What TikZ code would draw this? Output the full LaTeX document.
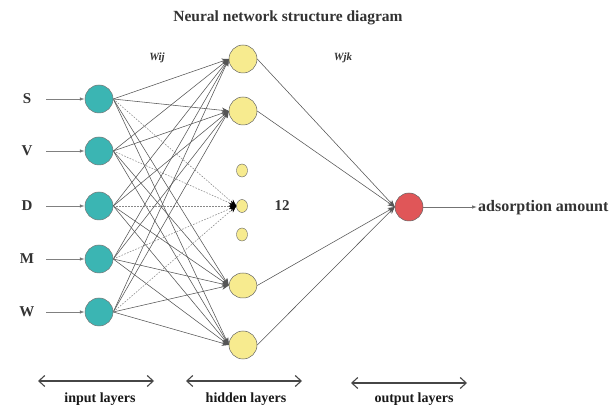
\documentclass[tikz,border=0pt]{standalone}
\usepackage{fontspec}
\setmainfont{Liberation Serif}
\usetikzlibrary{arrows.meta,shapes.geometric}
\definecolor{tealin}{RGB}{59,181,179}
\definecolor{yellowh}{RGB}{247,235,143}
\definecolor{redout}{RGB}{224,86,88}
\definecolor{edgegray}{RGB}{85,85,85}
\tikzset{
  innode/.style={ellipse,draw=edgegray!80,line width=0.5pt,fill=tealin,minimum width=28pt,minimum height=28pt,inner sep=0pt},
  hidnode/.style={ellipse,draw=gray!80!black,line width=0.5pt,fill=yellowh,minimum width=28pt,minimum height=28pt,inner sep=0pt},
  dotnode/.style={ellipse,draw=gray!80!black,line width=0.4pt,fill=yellowh,minimum width=11pt,minimum height=13pt,inner sep=0pt},
  outnode/.style={ellipse,draw=gray!80!black,line width=0.5pt,fill=redout,minimum width=28pt,minimum height=28pt,inner sep=0pt},
  conn/.style={draw=edgegray,line width=0.55pt,-{Stealth[length=7pt,width=5.5pt]}},
  dconn/.style={draw=edgegray!70,line width=0.55pt,dash pattern=on 1.6pt off 1.4pt,-{Stealth[length=7pt,width=5.5pt,color=black,fill=black]}},
  inarrow/.style={draw=gray,line width=0.8pt,-{Latex[length=5pt,width=3.5pt,fill=black]}},
  lbl/.style={font=\bfseries\fontsize{15}{17}\selectfont,text=black!80},
  layerarrow/.style={draw=gray!55!black,line width=1.1pt,{Straight Barb[length=6pt,width=11pt]}-{Straight Barb[length=6pt,width=11pt]}},
  layerlbl/.style={font=\bfseries\fontsize{14}{16}\selectfont,text=black!90},
}
\begin{document}
\begin{tikzpicture}[x=1pt,y=-1pt]
\useasboundingbox[fill=white] (0,0) rectangle (614,406);
% title
\node[font=\bfseries\fontsize{15.5}{18}\selectfont,text=black!80] (title) at (288,18) {Neural network structure diagram};
\node[font=\bfseries\itshape\fontsize{11}{13}\selectfont,text=black!80] (wij) at (157,58) {Wij};
\node[font=\bfseries\itshape\fontsize{11}{13}\selectfont,text=black!80] (wjk) at (343,58) {Wjk};
% input nodes
\foreach \n/\y/\t in {1/99/S,2/151/V,3/206/D,4/259/M,5/312/W}{
  \node[innode] (i\n) at (99,\y) {};
  \node[lbl] (l\n) at (27,\y) {\t};
  \coordinate (s\n) at (46,\y);
  \draw[inarrow] (s\n) -- (i\n.west);
}
% hidden nodes
\node[hidnode] (h1) at (243,59) {};
\node[hidnode] (h2) at (243,111) {};
\node[hidnode,minimum height=25pt] (h3) at (243,285.5) {};
\node[hidnode] (h4) at (243,345) {};
\node[dotnode] (d1) at (242,170.5) {};
\node[dotnode] (d2) at (242,206) {};
\node[dotnode] (d3) at (242,234.5) {};
\node[font=\bfseries\fontsize{15}{17}\selectfont,text=black!80] (twelve) at (282,206) {12};
% output node
\node[outnode] (o) at (409,207) {};
\coordinate (oend) at (477,207);
\draw[inarrow,draw=gray!90!black] (o.east) -- (oend);
\node[font=\bfseries\fontsize{16}{18}\selectfont,text=black!80,anchor=west,inner sep=0pt] (res) at (478,208) {adsorption amount};
% input -> hidden
\foreach \i in {1,...,5}{
  \foreach \h in {1,...,4}{
    \draw[conn] (i\i.east) -- (h\h.west);
  }
  \draw[dconn] (i\i.east) -- (d2.west);
}
% hidden -> output
\foreach \h in {1,...,4}{
  \draw[conn] (h\h.east) -- (o.west);
}
% layer arrows
\coordinate (a1) at (38,381); \coordinate (a2) at (154,381);
\coordinate (b1) at (186,381); \coordinate (b2) at (302,381);
\coordinate (c1) at (351,383); \coordinate (c2) at (467,383);
\draw[layerarrow] (a1) -- (a2);
\draw[layerarrow] (b1) -- (b2);
\draw[layerarrow] (c1) -- (c2);
\node[layerlbl] (t1) at (100,399) {input layers};
\node[layerlbl] (t2) at (246,399) {hidden layers};
\node[layerlbl] (t3) at (414,399) {output layers};
\end{tikzpicture}
\end{document}
